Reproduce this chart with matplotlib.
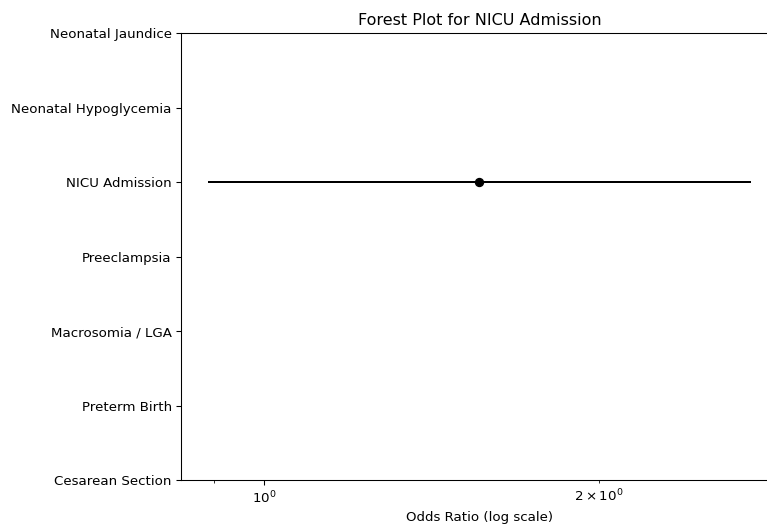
import numpy as np
import matplotlib
matplotlib.use("Agg")
import matplotlib.pyplot as plt

outcomes = ["Cesarean Section", "Preterm Birth", "Macrosomia / LGA", "Preeclampsia",
            "NICU Admission", "Neonatal Hypoglycemia", "Neonatal Jaundice"]
odds_ratio = [np.nan, np.nan, np.nan, np.nan, 1.56, np.nan, np.nan]
ci_lower = [np.nan, np.nan, np.nan, np.nan, 0.89, np.nan, np.nan]
ci_upper = [np.nan, np.nan, np.nan, np.nan, 2.74, np.nan, np.nan]

# 96 dpi so everything comes out slightly smaller, like the reference
fig = plt.figure(figsize=(767 / 96, 529 / 96), dpi=96)
ax = fig.add_axes([0.236, 0.0926, 0.778, 0.845])

y = np.arange(len(outcomes))
orr = np.array(odds_ratio)
lo = np.array(ci_lower)
hi = np.array(ci_upper)
ax.errorbar(orr, y, xerr=[orr - lo, hi - orr], fmt="o", color="black")

ax.set_xscale("log")
ax.set_yticks(y)
ax.set_yticklabels(outcomes)
ax.set_ylim(0, len(outcomes) - 1)
ax.set_xlabel("Odds Ratio (log scale)")
ax.set_title("Forest Plot for NICU Admission")

fig.savefig("out.png", dpi=96)
